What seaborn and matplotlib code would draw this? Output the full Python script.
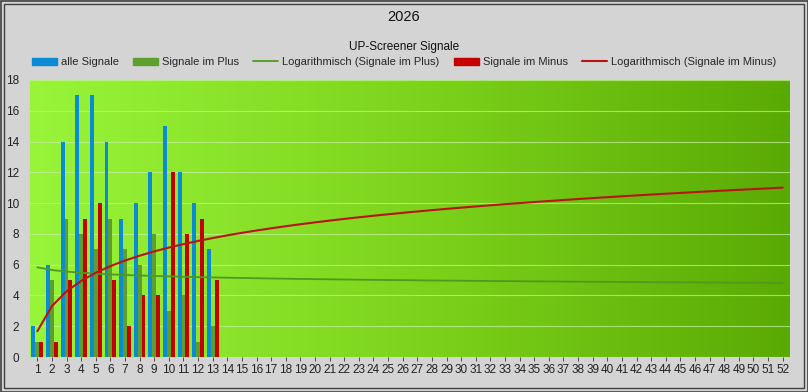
import numpy as np
import pandas as pd
import matplotlib
matplotlib.use("Agg")
import matplotlib.pyplot as plt
from matplotlib.patches import Rectangle
from matplotlib.lines import Line2D
from matplotlib.colors import LinearSegmentedColormap
import seaborn as sns

weeks = [str(w) for w in range(1, 53)]
data_weeks = list(range(1, 14))
alle_signale = [2, 6, 14, 17, 17, 14, 9, 10, 12, 15, 12, 10, 7]
signale_plus = [1, 5, 9, 8, 7, 9, 7, 6, 8, 3, 4, 1, 2]
signale_minus = [1, 1, 5, 9, 10, 5, 2, 4, 4, 12, 8, 9, 5]
series_names = ["alle Signale", "Signale im Plus", "Signale im Minus"]
title = "2026"
subtitle = "UP-Screener Signale"

c_blue = "#0B8BD3"
c_green = "#5E9E2C"
c_red = "#C40000"
c_trend_green = "#4E9A1E"
c_trend_red = "#B81414"

sns.set_theme(style="white")
plt.rcParams['font.family'] = ['Liberation Sans', 'DejaVu Sans']

rows = []
for i, w in enumerate(data_weeks):
    rows.append((str(w), series_names[0], alle_signale[i]))
    rows.append((str(w), series_names[1], signale_plus[i]))
    rows.append((str(w), series_names[2], signale_minus[i]))
df = pd.DataFrame(rows, columns=["Woche", "Serie", "Wert"])

fig = plt.figure(figsize=(8.08, 3.92), dpi=100, facecolor="#D4D4D4")
ax = fig.add_axes([30 / 808, 35 / 392, 760 / 808, 277 / 392])

# gradient background
grad = np.linspace(0, 1, 256).reshape(1, -1)
cmap = LinearSegmentedColormap.from_list("g", ["#98F53A", "#7ED41C", "#5AAA04"])
ax.imshow(grad, aspect="auto", cmap=cmap, extent=[-0.5, 51.5, 0, 18], zorder=0)

sns.barplot(data=df, x="Woche", y="Wert", hue="Serie", order=weeks,
            hue_order=series_names, palette=[c_blue, c_green, c_red],
            width=0.8, gap=0, ax=ax, legend=False, zorder=3, saturation=1,
            linewidth=0, edgecolor="none")

# logarithmic trendlines (least squares on ln x, as Excel does)
xw = np.array(data_weeks, dtype=float)
xs = np.arange(1, 53, dtype=float)
bp, ap = np.polyfit(np.log(xw), np.array(signale_plus, float), 1)
bm, am = np.polyfit(np.log(xw), np.array(signale_minus, float), 1)
ax.plot(xs - 1, ap + bp * np.log(xs), color=c_trend_green, lw=1.3, zorder=4)
ax.plot(xs - 1, am + bm * np.log(xs), color=c_trend_red, lw=1.5, zorder=5)

ax.set_xlim(-0.5, 51.5)
ax.set_ylim(0, 18)
ax.set_yticks(range(0, 19, 2))
ax.set_xlabel("")
ax.set_ylabel("")
ax.yaxis.grid(True, color="#C8F0A0", lw=0.8, alpha=0.7, zorder=1)
ax.set_axisbelow(False)
for s in ax.spines.values():
    s.set_visible(False)
ax.tick_params(axis="x", labelsize=8.5, colors="#333333", length=3, width=0.6,
               pad=2, bottom=True)
ax.tick_params(axis="y", labelsize=8.5, colors="#333333", length=0, pad=8)
for lab in ax.get_xticklabels() + ax.get_yticklabels():
    lab.set_color("#222222")

fig.text(0.5, 1 - 17 / 392, title, ha="center", va="center", fontsize=10.5, color="#111111")
fig.text(0.5, 1 - 47 / 392, subtitle, ha="center", va="center", fontsize=8.5, color="#111111")

handles = [
    Rectangle((0, 0), 1, 1, color=c_blue),
    Rectangle((0, 0), 1, 1, color=c_green),
    Line2D([0], [0], color=c_trend_green, lw=1.3),
    Rectangle((0, 0), 1, 1, color=c_red),
    Line2D([0], [0], color=c_trend_red, lw=1.5),
]
labels = ["alle Signale", "Signale im Plus", "Logarithmisch (Signale im Plus)",
          "Signale im Minus", "Logarithmisch (Signale im Minus)"]
fig.legend(handles, labels, loc="center", bbox_to_anchor=(0.5, 1 - 62 / 392),
           ncol=5, frameon=False, fontsize=8, handlelength=2.25, handleheight=0.6,
           handletextpad=0.35, columnspacing=1.3, borderaxespad=0, borderpad=0)

# frame borders
fig.patches.append(Rectangle((0.5 / 808, 0.5 / 392), 807 / 808, 391 / 392, transform=fig.transFigure,
                             fill=False, ec="#404040", lw=1.2))
fig.patches.append(Rectangle((4 / 808, 4 / 392), 800 / 808, 384 / 392, transform=fig.transFigure,
                             fill=False, ec="#404040", lw=1.0))

fig.savefig("out.png", dpi=100, facecolor=fig.get_facecolor())
